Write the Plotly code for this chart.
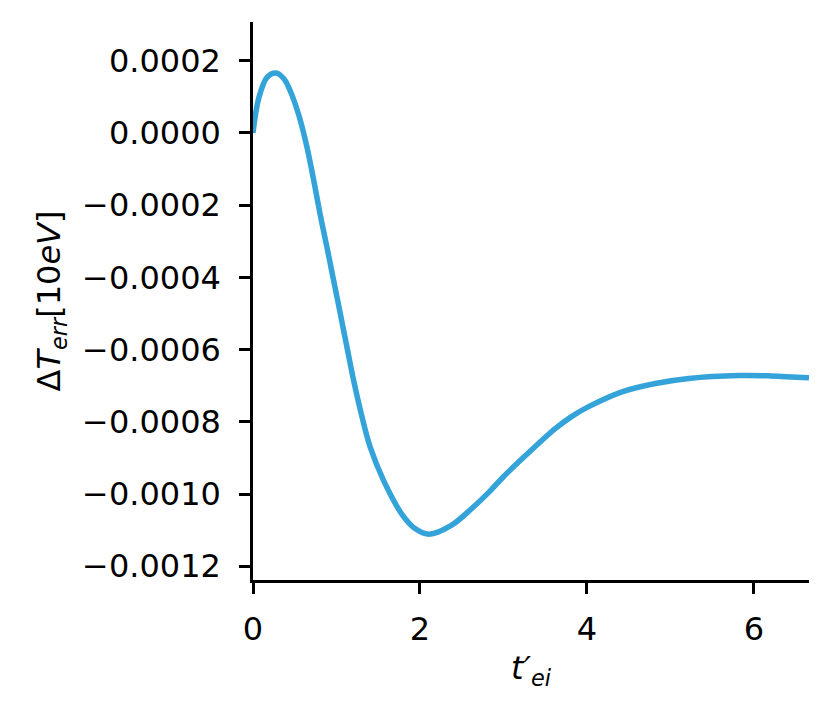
import plotly.graph_objects as go

# curve
t_ei = [0.0, 0.07, 0.168, 0.275, 0.37, 0.443, 0.55, 0.647, 0.727, 0.802,
        0.886, 0.966, 1.046, 1.126, 1.206, 1.297, 1.405, 1.565, 1.784, 1.95,
        2.11, 2.38, 2.62, 2.83, 3.0, 3.22, 3.42, 3.62, 3.82, 4.02, 4.42, 4.82,
        5.22, 5.82, 6.2, 6.66]
delta_T = [0.0, 0.000097, 0.000154, 0.000166, 0.00015, 0.000118, 0.000048,
           -0.00004, -0.000131, -0.000223, -0.000317, -0.000409, -0.000501,
           -0.000594, -0.000686, -0.000778, -0.000871, -0.000963, -0.001056,
           -0.001097, -0.001111, -0.001086, -0.00104, -0.000994, -0.000952,
           -0.000903, -0.00086, -0.000819, -0.000785, -0.000758, -0.000717,
           -0.000694, -0.00068, -0.000672, -0.000673, -0.000678]

y_tickvals = [0.0002, 0.0, -0.0002, -0.0004, -0.0006, -0.0008, -0.0010, -0.0012]
y_ticktext = ["0.0002", "0.0000", "\u22120.0002", "\u22120.0004", "\u22120.0006",
              "\u22120.0008", "\u22120.0010", "\u22120.0012"]
x_tickvals = [0, 2, 4, 6]

FONT = "DejaVu Sans"
FONT_SIZE = 32

fig = go.Figure()
fig.add_trace(go.Scatter(
    x=t_ei, y=delta_T, mode="lines",
    line=dict(color="#33a3d9", width=5.5, shape="spline", smoothing=1.0),
    showlegend=False,
))

axis_common = dict(
    showgrid=False, zeroline=False, showline=True, linecolor="black",
    linewidth=2.5, ticks="outside", ticklen=11, tickwidth=2.5, tickcolor="black",
    tickfont=dict(family=FONT, size=FONT_SIZE, color="black"),
)
fig.update_layout(
    width=832, height=716,
    plot_bgcolor="white", paper_bgcolor="white",
    margin=dict(l=245, r=31, t=14, b=144),
    font=dict(family=FONT, color="black"),
    xaxis=dict(
        range=[0, 6.66], tickvals=x_tickvals, ticklabelstandoff=8,
        title=dict(text="<i>t\u2032</i><sub><i>ei</i></sub>",
                   font=dict(family=FONT, size=FONT_SIZE), standoff=10),
        **axis_common,
    ),
    yaxis=dict(
        range=[-0.001238, 0.000307], tickvals=y_tickvals, ticktext=y_ticktext,
        ticklabelstandoff=12,
        title=dict(text="\u0394<i>T</i><sub><i>err</i></sub>[10<i>eV</i>]",
                   font=dict(family=FONT, size=FONT_SIZE), standoff=12),
        **axis_common,
    ),
)

fig.write_html("out.html")
